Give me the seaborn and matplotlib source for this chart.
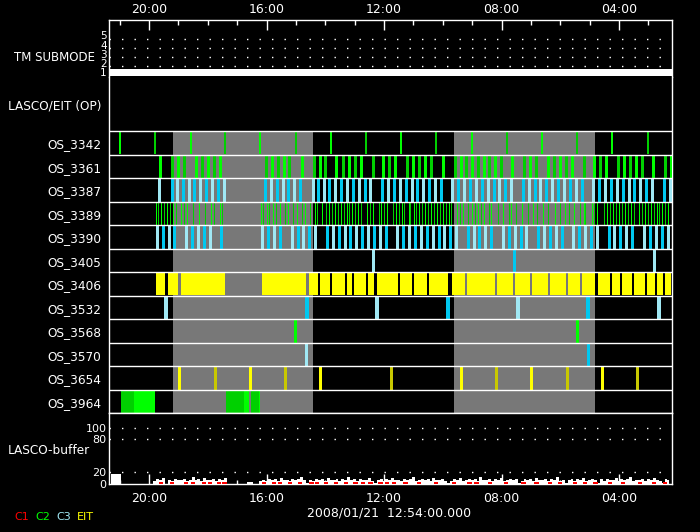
import numpy as np
import matplotlib
matplotlib.use("Agg")
import matplotlib.pyplot as plt
import matplotlib.transforms as mtransforms
from matplotlib.ticker import FixedLocator, FixedFormatter
import seaborn as sns

# ---------------- data (times in decimal hours UT, 2008/01/21) ----------------
t_left, t_right = 21.372, 2.213

tm_times = [21.372, 2.213]
tm_submode = [1, 1]

row_names = ["OS_3342", "OS_3361", "OS_3387", "OS_3389", "OS_3390", "OS_3405",
             "OS_3406", "OS_3532", "OS_3568", "OS_3570", "OS_3654", "OS_3964"]

gray_from = [19.18, 9.62]
gray_to = [14.42, 4.82]

os3342 = [20.99, 19.80, 18.58, 17.40, 16.21, 15.00, 13.81, 12.60, 11.41, 10.22,
          9.00, 7.82, 6.61, 5.42, 4.23, 3.02]

os3361 = [19.62, 19.21, 19.00, 18.80, 18.39, 18.21, 18.00, 17.80, 17.59, 16.01,
          15.80, 15.60, 15.39, 15.22, 14.80, 14.39, 14.19, 14.00, 13.62, 13.41,
          13.20, 13.00, 12.79, 12.39, 12.02, 11.82, 11.62, 11.21, 11.00, 10.82,
          10.61, 10.41, 10.00, 9.59, 9.39, 9.21, 9.00, 8.80, 8.61, 8.42, 8.21,
          8.01, 7.63, 7.22, 7.02, 6.82, 6.41, 6.22, 6.02, 5.82, 5.61, 5.20, 4.84,
          4.64, 4.43, 4.02, 3.82, 3.62, 3.41, 3.23, 2.83, 2.42, 2.23]

os3387 = [19.65, 19.23, 19.04, 18.83, 18.65, 18.46, 18.25, 18.05, 17.85, 17.64,
          17.44, 16.04, 15.84, 15.65, 15.45, 15.26, 15.05, 14.85, 14.43, 14.24,
          14.04, 13.86, 13.66, 13.45, 13.25, 13.05, 12.84, 12.66, 12.47, 12.06,
          11.85, 11.65, 11.45, 11.24, 11.06, 10.87, 10.66, 10.46, 10.25, 10.05,
          9.68, 9.47, 9.27, 9.06, 8.86, 8.65, 8.45, 8.25, 8.08, 7.87, 7.67, 7.26,
          7.05, 6.85, 6.68, 6.48, 6.27, 6.07, 5.86, 5.66, 5.45, 5.25, 4.88, 4.67,
          4.47, 4.26, 4.06, 3.85, 3.67, 3.48, 3.28, 3.07, 2.87, 2.46, 2.25]

os3389 = [19.75, 19.68, 19.58, 19.48, 19.38, 19.28, 19.17, 19.07, 18.90, 18.80,
          18.70, 18.49, 18.29, 18.08, 17.88, 17.78, 17.57, 17.51, 16.18, 16.11,
          15.97, 15.90, 15.77, 15.67, 15.53, 15.36, 15.26, 15.09, 14.95, 14.78,
          14.68, 14.51, 14.34, 14.29, 14.10, 13.96, 13.86, 13.76, 13.66, 13.56,
          13.45, 13.35, 13.25, 13.18, 13.08, 12.98, 12.87, 12.77, 12.57, 12.47,
          12.36, 12.18, 12.09, 11.99, 11.89, 11.68, 11.58, 11.48, 11.38, 11.31,
          11.16, 11.10, 10.99, 10.90, 10.80, 10.70, 10.59, 10.49, 10.39, 10.29,
          10.19, 10.08, 9.98, 9.88, 9.78, 9.71, 9.50, 9.40, 9.30, 9.15, 8.99,
          8.89, 8.79, 8.69, 8.59, 8.41, 8.35, 8.11, 7.94, 7.73, 7.67, 7.50, 7.29,
          7.09, 6.92, 6.78, 6.58, 6.41, 6.17, 6.00, 5.83, 5.69, 5.52, 5.32, 5.18,
          5.15, 4.91, 4.84, 4.74, 4.50, 4.40, 4.30, 4.19, 4.09, 3.99, 3.89, 3.79,
          3.68, 3.58, 3.48, 3.31, 3.21, 3.10, 3.00, 2.90, 2.80, 2.70, 2.63, 2.53,
          2.42, 2.32]

os3390 = [19.72, 19.51, 19.31, 19.14, 18.73, 18.53, 18.32, 18.12, 17.91, 17.54,
          16.14, 15.94, 15.73, 15.53, 15.12, 14.92, 14.75, 14.54, 14.34, 13.93,
          13.73, 13.52, 13.32, 13.15, 12.94, 12.74, 12.53, 12.33, 12.13, 11.92,
          11.55, 11.34, 11.14, 10.93, 10.73, 10.53, 10.32, 10.12, 9.95, 9.74,
          9.54, 9.13, 8.93, 8.76, 8.55, 8.35, 7.94, 7.73, 7.53, 7.33, 7.16, 6.75,
          6.54, 6.34, 6.13, 5.93, 5.56, 5.35, 5.15, 4.94, 4.74, 4.33, 4.16, 3.96,
          3.75, 3.55, 3.14, 2.93, 2.75, 2.55, 2.34]

os3405 = [12.36, 7.56, 2.81]

os3406_from = [19.772, 19.353, 18.910, 16.163, 14.543, 14.178, 13.770, 13.259,
               13.021, 12.544, 12.238, 11.455, 10.978, 10.468, 9.685, 9.174,
               8.153, 7.540, 6.961, 6.348, 5.735, 5.259, 4.714, 4.238, 3.897,
               3.489, 3.046, 2.706, 2.434]
os3406_to = [19.455, 19.022, 17.412, 14.655, 14.247, 13.838, 13.327, 13.089,
             12.612, 12.340, 11.523, 11.047, 10.536, 9.821, 9.242, 8.221,
             7.608, 7.030, 6.417, 5.804, 5.327, 4.816, 4.306, 3.965, 3.557,
             3.114, 2.774, 2.502, 2.219]

os3532 = [19.43, 14.63, 12.25, 9.82, 7.45, 5.04, 2.64]
os3568 = [15.02, 5.42]
os3570 = [14.64, 5.07]
os3654 = [18.97, 17.75, 16.56, 15.36, 14.17, 11.77, 9.37, 8.18, 6.99, 5.78,
          4.58, 3.38]

os3964_from = [20.95, 20.51, 17.38, 16.77, 16.53, 16.24]
os3964_to = [20.51, 19.80, 16.77, 16.60, 16.24, 16.22]

# LASCO buffer fill level, one value every 6 minutes from 21:18 back to 02:18
buf_start, buf_step = 21.3, 0.1
buf_values = [17, 17, 17, 17,
              0, 0, 0, 0, 0, 0, 0, 0, 0, 0, 0,
              5, 8, 6, 10, 0, 7, 5, 9, 6,
              6, 9, 5, 7, 11, 6, 8, 5, 10, 7, 6, 9, 5, 8, 6, 10,
              0, 0, 0, 0, 0, 0, 0, 2, 2, 0, 0,
              4, 7, 5, 9, 6, 8, 5, 10, 6, 7,
              5, 9, 6, 8, 11, 6, 1, 7, 5, 9,
              6, 8, 5, 10, 7, 6, 9, 5, 8, 6,
              12, 6, 8, 5, 9, 7, 6, 10, 5, 1,
              7, 9, 5, 8, 6, 10, 6, 7, 5, 9,
              6, 8, 11, 5, 7, 9, 6, 8, 5, 10,
              6, 7, 9, 5, 1, 4, 8, 6, 10, 5,
              7, 9, 6, 8, 5, 12, 6, 7, 9, 5,
              8, 6, 10, 5, 7, 9, 6, 8, 1, 5,
              9, 6, 8, 5, 10, 7, 6, 9, 5, 8,
              6, 11, 5, 7, 1, 6, 9, 5, 8, 6,
              10, 5, 7, 9, 6, 1, 8, 5, 9, 6,
              7, 10, 5, 8, 6, 9, 12, 5, 7, 6,
              9, 5, 8, 6, 10, 7, 5, 1, 8, 6]

c1_times = [19.59, 19.23, 18.74, 18.50, 18.14, 17.91, 17.63, 17.43, 16.10, 15.74,
            15.54, 15.20, 14.86, 14.47, 14.28, 13.96, 13.62, 13.28, 12.97, 12.70,
            12.46, 12.12, 11.89, 11.66, 11.27, 10.81, 10.23, 9.63, 9.09, 8.85,
            8.39, 7.85, 7.25, 6.81, 6.35, 6.02, 5.51, 5.17, 4.80, 4.31, 3.85,
            3.29, 2.82, 2.43]

major_hours = [20, 16, 12, 8, 4]
major_labels = ["20:00", "16:00", "12:00", "08:00", "04:00"]
minor_hours = list(range(3, 22))
tm_levels = [1, 2, 3, 4, 5]
buf_ticks = [0, 20, 80, 100]
legend_items = ["C1", "C2", "C3", "EIT"]
date_label = "2008/01/21  12:54:00.000"

# ---------------- style ----------------
PX = 0.72  # points per pixel at dpi 100
GREEN, DGREEN = "#00ff00", "#00d000"
CYAN, LCYAN = "#00c8f0", "#a0e8f4"
YELLOW, OLIVE = "#ffff00", "#c8c800"
GRAY = "#787878"
legend_colors = ["#ff0000", "#00ff00", "#a0e8f4", "#ffff00"]

sns.set_theme(style="dark", rc={
    "axes.facecolor": "black", "figure.facecolor": "black",
    "axes.edgecolor": "white", "text.color": "white",
    "xtick.color": "white", "ytick.color": "white",
    "axes.grid": False, "axes.linewidth": 1.0,
})
plt.rcParams["font.family"] = ["DejaVu Sans"]

fig = plt.figure(figsize=(7, 5.32), dpi=100)
L, W = 108.7 / 700, (671.5 - 108.7) / 700


def rect(top, bottom):
    return [L, 1 - bottom / 532, W, (bottom - top) / 532]


ax_tm = fig.add_axes(rect(20, 77))
ax_os = fig.add_axes(rect(77, 413.3))
ax_buf = fig.add_axes(rect(413.3, 483.5))

for ax in (ax_tm, ax_os, ax_buf):
    ax.set_facecolor("black")
    ax.set_xlim(t_left, t_right)
    for s in ax.spines.values():
        s.set_color("white")
        s.set_linewidth(1.0)
    ax.set_xlabel("")
    ax.set_ylabel("")

# ---- TM submode panel ----
ax_tm.set_ylim(0.516, 6.645)
for v in tm_levels[1:]:
    ax_tm.axhline(v - 0.35, color="white", lw=1.0, ls=(0, (1, 8)))
sns.lineplot(x=tm_times, y=tm_submode, ax=ax_tm, color="white",
             linewidth=7 * PX, solid_capstyle="butt", legend=False)
ax_tm.spines["bottom"].set_visible(False)
ax_tm.xaxis.tick_top()
ax_tm.xaxis.set_major_locator(FixedLocator(major_hours))
ax_tm.xaxis.set_major_formatter(FixedFormatter(major_labels))
ax_tm.xaxis.set_minor_locator(FixedLocator(minor_hours))
ax_tm.tick_params(axis="x", which="major", direction="in", length=10 * PX,
                  width=1.0, labelsize=9, pad=3, top=True, bottom=False)
ax_tm.tick_params(axis="x", which="minor", direction="in", length=5 * PX,
                  width=1.0, top=True, bottom=False)
ax_tm.set_yticks(tm_levels)
ax_tm.set_yticklabels([str(v) for v in tm_levels])
ax_tm.tick_params(axis="y", length=0, pad=1.5, labelsize=7.5)
tr = mtransforms.blended_transform_factory(ax_tm.transAxes, ax_tm.transData)
ax_tm.text(-0.0243, 2.56, "TM SUBMODE", transform=tr, ha="right",
           va="center", fontsize=8.5)

# ---- OS rows panel ----
n = len(row_names)
ax_os.set_ylim(n, -2.31)
ax_os.spines["top"].set_visible(False)
ax_os.spines["bottom"].set_visible(False)
ax_os.set_xticks([])
ax_os.broken_barh([(b, a - b) for a, b in zip(gray_from, gray_to)], (0, n),
                  facecolors=GRAY, linewidth=0, zorder=1)


def bars(row, times, palette, width_px=1.0):
    cols = [palette[i % len(palette)] for i in range(len(times))]
    ax_os.vlines(times, row + 0.03, row + 0.97, colors=cols,
                 linewidth=width_px * PX, antialiased=False, zorder=3)


bars(0, os3342, [GREEN, DGREEN], 2.0)
bars(1, os3361, [GREEN, DGREEN], 1.2)
bars(2, os3387, [LCYAN, CYAN], 1.2)
bars(3, os3389, [GREEN, DGREEN], 1.0)
bars(4, os3390, [LCYAN, CYAN], 1.2)
bars(5, os3405, [LCYAN, CYAN], 1.2)
ax_os.broken_barh([(b, a - b) for a, b in zip(os3406_from, os3406_to)],
                  (6.03, 0.94), facecolors=YELLOW, linewidth=0, zorder=3)
bars(7, os3532, [LCYAN, CYAN], 2.2)
bars(8, os3568, [GREEN], 1.3)
bars(9, os3570, [LCYAN, CYAN], 1.3)
bars(10, os3654, [YELLOW, OLIVE], 3.0)
ax_os.broken_barh([(b, a - b) for a, b in zip(os3964_from, os3964_to)],
                  (11.03, 0.94),
                  facecolors=[DGREEN, GREEN, DGREEN, GREEN, DGREEN, GREEN],
                  linewidth=0, zorder=3)

for y in range(n + 1):
    ax_os.axhline(y, color="white", lw=1.0, zorder=4)

ax_os.set_yticks([-1.16] + [i + 0.5 for i in range(n)])
ax_os.set_yticklabels(["LASCO/EIT (OP)"] + row_names)
ax_os.tick_params(axis="y", which="major", length=0, pad=5.5, labelsize=8.7)
ax_os.yaxis.set_minor_locator(FixedLocator(list(range(n + 1))))
ax_os.tick_params(axis="y", which="minor", length=1.5, width=1.0,
                  direction="out")

# ---- LASCO buffer panel ----
buf_t = buf_start - buf_step * np.arange(len(buf_values))
buf_v = np.array(buf_values, dtype=float)
ax_buf.set_ylim(0, 126.5)
for v in buf_ticks[1:]:
    ax_buf.axhline(v, color="white", lw=1.0, ls=(0, (1, 8)))
ax_buf.fill_between(buf_t, 0, buf_v, step="mid",
                    color="white", linewidth=0, zorder=2)
c1 = np.array(c1_times)
ax_buf.hlines(np.full(len(c1), 1.2), c1 - 0.07, c1 + 0.07, colors="#ff0000",
              linewidth=2 * PX, zorder=3)
ax_buf.xaxis.set_major_locator(FixedLocator(major_hours))
ax_buf.xaxis.set_major_formatter(FixedFormatter(major_labels))
ax_buf.xaxis.set_minor_locator(FixedLocator(minor_hours))
ax_buf.tick_params(axis="x", which="major", direction="in", length=10 * PX,
                   width=1.0, labelsize=9, pad=6, top=False, bottom=True)
ax_buf.tick_params(axis="x", which="minor", direction="in", length=4 * PX,
                   width=1.0, top=False, bottom=True)
ax_buf.set_yticks(buf_ticks)
ax_buf.set_yticklabels([str(v) for v in buf_ticks])
ax_buf.tick_params(axis="y", length=0, pad=1.5, labelsize=8)
trb = mtransforms.blended_transform_factory(ax_buf.transAxes, ax_buf.transData)
ax_buf.text(-0.0332, 59, "LASCO-buffer", transform=trb, ha="right",
            va="center", fontsize=8.7)

# ---- footer texts ----
fig.text(389 / 700, 1 - 513 / 532, date_label, ha="center", va="center",
         fontsize=9, color="white")
legend_x = [14, 35, 56, 77]
for x, s, c in zip(legend_x, legend_items, legend_colors):
    fig.text(x / 700, 1 - 517 / 532, s, ha="left", va="center", fontsize=8,
             color=c)

fig.savefig("out.png", dpi=100, facecolor="black")
